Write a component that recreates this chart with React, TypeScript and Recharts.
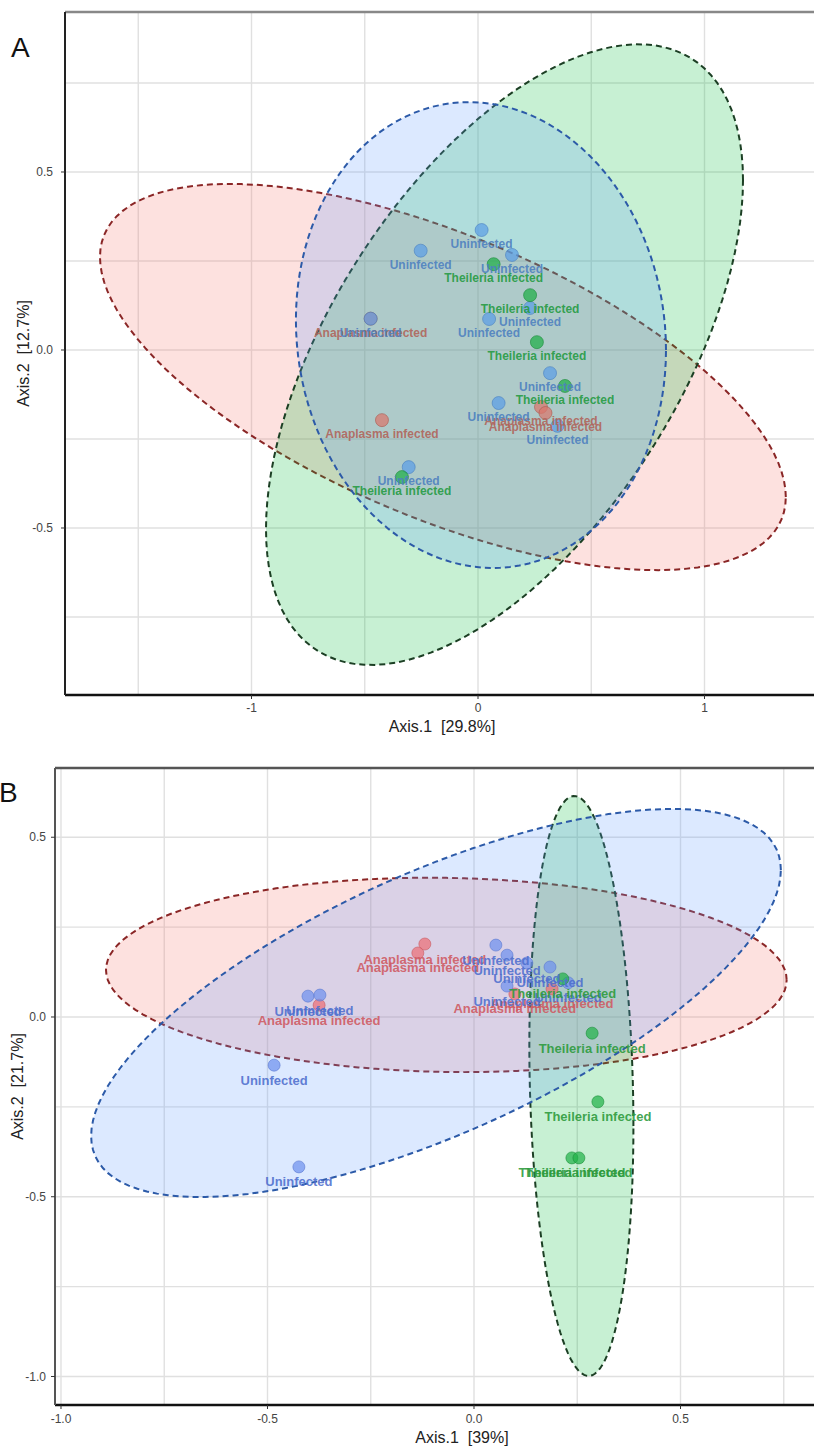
import React from 'react';
import { ScatterChart, Scatter, XAxis, YAxis, CartesianGrid, ReferenceLine } from 'recharts';

// ---------- Panel A : Axis.1 [29.8%] / Axis.2 [12.7%] ----------
const aAnaplasma = [
  { x: -0.474, y: 0.088 },
  { x: -0.424, y: -0.197 },
  { x: 0.278, y: -0.16 },
  { x: 0.298, y: -0.177 },
];
const aUninfected = [
  { x: 0.016, y: 0.337 },
  { x: -0.253, y: 0.279 },
  { x: 0.15, y: 0.267 },
  { x: 0.23, y: 0.118 },
  { x: 0.049, y: 0.087 },
  { x: -0.474, y: 0.088 },
  { x: 0.318, y: -0.065 },
  { x: 0.091, y: -0.149 },
  { x: 0.351, y: -0.213 },
  { x: -0.306, y: -0.329 },
];
const aTheileria = [
  { x: 0.069, y: 0.241 },
  { x: 0.23, y: 0.154 },
  { x: 0.26, y: 0.022 },
  { x: 0.384, y: -0.101 },
  { x: -0.336, y: -0.357 },
];
// stat_ellipse outlines: centre, conjugate half-diameters (ux,uy) and vertical half-chord h
const aEllipses = [
  { group: 'Anaplasma infected', cx: -0.155, cy: -0.076, ux: 1.514, uy: -0.337, h: 0.425 },
  { group: 'Theileria infected', cx: 0.117, cy: -0.013, ux: 1.053, uy: 0.49, h: 0.721 },
  { group: 'Uninfected', cx: 0.013, cy: 0.042, ux: 0.817, uy: -0.042, h: 0.653 },
];
const aXTicks = [-1, 0, 1];
const aYTicks = [-0.5, 0, 0.5];
const aXGrid = [-1.5, -1, -0.5, 0, 0.5, 1, 1.5];
const aYGrid = [-0.75, -0.5, -0.25, 0, 0.25, 0.5, 0.75];

// ---------- Panel B : Axis.1 [39%] / Axis.2 [21.7%] ----------
const bAnaplasma = [
  { x: -0.119, y: 0.203 },
  { x: -0.136, y: 0.178 },
  { x: -0.375, y: 0.033 },
  { x: 0.099, y: 0.064 },
  { x: 0.189, y: 0.078 },
];
const bUninfected = [
  { x: -0.484, y: -0.134 },
  { x: -0.424, y: -0.417 },
  { x: -0.402, y: 0.058 },
  { x: -0.373, y: 0.061 },
  { x: 0.053, y: 0.2 },
  { x: 0.08, y: 0.172 },
  { x: 0.128, y: 0.15 },
  { x: 0.184, y: 0.139 },
  { x: 0.228, y: 0.095 },
  { x: 0.08, y: 0.086 },
];
const bTheileria = [
  { x: 0.215, y: 0.106 },
  { x: 0.286, y: -0.045 },
  { x: 0.3, y: -0.236 },
  { x: 0.237, y: -0.392 },
  { x: 0.254, y: -0.392 },
];
const bEllipses = [
  { group: 'Anaplasma infected', cx: -0.067, cy: 0.117, ux: 0.824, uy: -0.014, h: 0.27 },
  { group: 'Theileria infected', cx: 0.26, cy: -0.192, ux: 0.126, uy: -0.111, h: 0.799 },
  { group: 'Uninfected', cx: -0.092, cy: 0.039, ux: 0.835, uy: 0.37, h: 0.393 },
];
const bXTicks = [-1, -0.5, 0, 0.5];
const bYTicks = [-1, -0.5, 0, 0.5];
const bXGrid = [-1, -0.75, -0.5, -0.25, 0, 0.25, 0.5, 0.75];
const bYGrid = [-1, -0.75, -0.5, -0.25, 0, 0.25, 0.5];

const ELLIPSE_STYLE: Record<string, { fill: string; stroke: string }> = {
  'Anaplasma infected': { fill: '#F8766D', stroke: '#8a2626' },
  'Theileria infected': { fill: '#00BA38', stroke: '#1c3f24' },
  Uninfected: { fill: '#619CFF', stroke: '#2c5aa8' },
};

const FONT = '"Liberation Sans", Arial, sans-serif';

function ellipseOutline(e: any, steps = 120) {
  const pts = [];
  for (let i = 0; i <= steps; i++) {
    const t = (i / steps) * 2 * Math.PI;
    pts.push({ x: e.cx + e.ux * Math.cos(t), y: e.cy + e.uy * Math.cos(t) + e.h * Math.sin(t) });
  }
  return pts;
}

interface Layer {
  name: string;
  data: { x: number; y: number }[];
  point: string;
  pointStroke: string;
  text: string;
}

interface PanelProps {
  top: number;
  width: number;
  height: number;
  margin: { top: number; right: number; bottom: number; left: number };
  yAxisWidth: number;
  xAxisHeight: number;
  xDomain: [number, number];
  yDomain: [number, number];
  xTicks: number[];
  yTicks: number[];
  xGrid: number[];
  yGrid: number[];
  xFormat: (v: number) => string;
  xTitle: string;
  yTitle: string;
  yTitleX: number;
  xTitleOffset: number;
  tickMarginX: number;
  tickMarginY: number;
  ellipses: any[];
  layers: Layer[];
  labelSize: number;
  labelDy: number;
  radius: number;
  titleSize: number;
  tickSize: number;
  topBorder: string;
  leftBorder: string;
}

function PcoaPanel(p: PanelProps) {
  return (
    <div style={{ position: 'absolute', left: 0, top: p.top }}>
      <ScatterChart width={p.width} height={p.height} margin={p.margin}>
        <CartesianGrid
          stroke="#e0e0e0"
          strokeWidth={1.4}
          verticalValues={p.xGrid}
          horizontalValues={p.yGrid}
        />
        <XAxis
          type="number"
          dataKey="x"
          domain={p.xDomain}
          allowDataOverflow
          ticks={p.xTicks}
          interval={0}
          tickFormatter={p.xFormat}
          height={p.xAxisHeight}
          axisLine={{ stroke: '#111', strokeWidth: 2.5 }}
          tickLine={{ stroke: '#333' }}
          tickSize={4}
          tickMargin={p.tickMarginX}
          tick={{ fontSize: p.tickSize, fill: '#444', fontFamily: FONT }}
          label={{
            value: p.xTitle,
            position: 'insideBottom',
            offset: p.xTitleOffset,
            style: { fontSize: p.titleSize, fill: '#222', fontFamily: FONT },
          }}
        />
        <YAxis
          type="number"
          dataKey="y"
          domain={p.yDomain}
          allowDataOverflow
          ticks={p.yTicks}
          interval={0}
          tickFormatter={(v: number) => v.toFixed(1)}
          width={p.yAxisWidth}
          axisLine={{ stroke: p.leftBorder, strokeWidth: 2 }}
          tickLine={{ stroke: '#333' }}
          tickSize={4}
          tickMargin={p.tickMarginY}
          tick={{ fontSize: p.tickSize, fill: '#444', fontFamily: FONT }}
          label={{
            value: p.yTitle,
            angle: -90,
            position: 'insideLeft',
            offset: p.yTitleX,
            style: { fontSize: p.titleSize, fill: '#222', fontFamily: FONT, textAnchor: 'middle' },
          }}
        />
        <ReferenceLine y={p.yDomain[1]} stroke={p.topBorder} strokeWidth={2.5} />
        {p.ellipses.map((e) => (
          <Scatter
            key={'ell-' + e.group}
            data={ellipseOutline(e)}
            isAnimationActive={false}
            lineType="joint"
            lineJointType="linear"
            line={{
              stroke: ELLIPSE_STYLE[e.group].stroke,
              strokeWidth: 2,
              strokeDasharray: '6 4',
              fill: ELLIPSE_STYLE[e.group].fill,
              fillOpacity: 0.22,
            }}
            shape={() => <g />}
          />
        ))}
        {p.layers.map((l) => (
          <Scatter
            key={'pt-' + l.name}
            data={l.data}
            isAnimationActive={false}
            shape={(s: any) => (
              <circle
                cx={s.cx}
                cy={s.cy}
                r={p.radius}
                fill={l.point}
                fillOpacity={0.72}
                stroke={l.pointStroke}
                strokeOpacity={0.6}
                strokeWidth={1}
              />
            )}
          />
        ))}
        {p.layers.map((l) => (
          <Scatter
            key={'lb-' + l.name}
            data={l.data}
            isAnimationActive={false}
            shape={(s: any) => (
              <text
                x={s.cx}
                y={s.cy + p.labelDy}
                textAnchor="middle"
                fontFamily={FONT}
                fontWeight="bold"
                fontSize={p.labelSize}
                fill={l.text}
                fillOpacity={0.9}
              >
                {l.name}
              </text>
            )}
          />
        ))}
      </ScatterChart>
    </div>
  );
}

export default function App() {
  return (
    <div
      style={{
        position: 'absolute',
        left: 0,
        top: 0,
        width: 814,
        height: 1448,
        overflow: 'hidden',
        background: '#fff',
        fontFamily: FONT,
      }}
    >
      <PcoaPanel
        top={0}
        width={840}
        height={740}
        margin={{ top: 12, right: 21, bottom: 0, left: 0 }}
        yAxisWidth={65}
        xAxisHeight={45}
        xDomain={[-1.8234, 1.5055]}
        yDomain={[-0.9691, 0.9494]}
        xTicks={aXTicks}
        yTicks={aYTicks}
        xGrid={aXGrid}
        yGrid={aYGrid}
        xFormat={(v) => String(v)}
        xTitle={'Axis.1\u00a0\u00a0[29.8%]'}
        yTitle={'Axis.2\u00a0\u00a0[12.7%]'}
        yTitleX={23}
        xTitleOffset={8}
        tickMarginX={4}
        tickMarginY={8}
        ellipses={aEllipses}
        layers={[
          { name: 'Anaplasma infected', data: aAnaplasma, point: '#d9776c', pointStroke: '#a85a50', text: '#b0645a' },
          { name: 'Uninfected', data: aUninfected, point: '#5c9ee6', pointStroke: '#4a80c0', text: '#4d80bf' },
          { name: 'Theileria infected', data: aTheileria, point: '#1fae47', pointStroke: '#1a8a3a', text: '#249a42' },
        ]}
        labelSize={12}
        labelDy={18}
        radius={6.5}
        titleSize={16}
        tickSize={12}
        topBorder="#888"
        leftBorder="#222"
      />
      <PcoaPanel
        top={740}
        width={880}
        height={708}
        margin={{ top: 28, right: 11, bottom: 0, left: 0 }}
        yAxisWidth={55}
        xAxisHeight={43}
        xDomain={[-1.0145, 0.9564]}
        yDomain={[-1.0793, 0.6926]}
        xTicks={bXTicks}
        yTicks={bYTicks}
        xGrid={bXGrid}
        yGrid={bYGrid}
        xFormat={(v) => v.toFixed(1)}
        xTitle={'Axis.1\u00a0\u00a0[39%]'}
        yTitle={'Axis.2\u00a0\u00a0[21.7%]'}
        yTitleX={17}
        xTitleOffset={5}
        tickMarginX={5}
        tickMarginY={5}
        ellipses={bEllipses}
        layers={[
          { name: 'Anaplasma infected', data: bAnaplasma, point: '#ec6f76', pointStroke: '#c85a60', text: '#cf5a62' },
          { name: 'Uninfected', data: bUninfected, point: '#6f92ef', pointStroke: '#5a78d0', text: '#4f6fce' },
          { name: 'Theileria infected', data: bTheileria, point: '#22b34a', pointStroke: '#1a8f3a', text: '#2c9a3c' },
        ]}
        labelSize={13}
        labelDy={19.5}
        radius={6}
        titleSize={16}
        tickSize={12}
        topBorder="#555"
        leftBorder="#555"
      />
      <div style={{ position: 'absolute', left: 11, top: 34, fontSize: 28, lineHeight: 1, color: '#111' }}>A</div>
      <div style={{ position: 'absolute', left: -1, top: 779, fontSize: 28, lineHeight: 1, color: '#111' }}>B</div>
    </div>
  );
}
